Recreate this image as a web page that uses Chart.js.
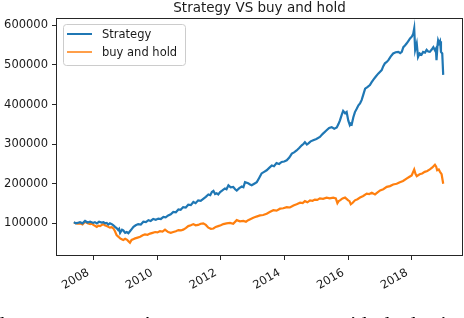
<!DOCTYPE html>
<html>
<head>
<meta charset="utf-8">
<script src="https://cdn.jsdelivr.net/npm/chart.js@4.4.0/dist/chart.umd.min.js"></script>
<style>
  html, body { margin: 0; padding: 0; background: #fff; overflow: hidden; }
  #wrap { position: relative; width: 464px; height: 318px; overflow: hidden; }
  #caption {
    position: absolute; left: 0; top: 313px;
    font: 22px "Liberation Serif", serif; line-height: 1;
    white-space: nowrap; color: #000;
  }
</style>
</head>
<body>
<div id="wrap">
  <canvas id="chart" width="464" height="318"></canvas>
  <div id="caption">hat a component's strategy, once seen with the horizon</div>
</div>
<script>
// ------------------------------------------------------------
//   values (dates as decimal years)
// ------------------------------------------------------------
const chartTitle = "Strategy VS buy and hold";
const seriesNames = ["Strategy", "buy and hold"];

const strategyDates = [
  2007.39, 2007.45, 2007.50, 2007.58, 2007.66, 2007.74, 2007.82, 2007.90,
  2008.00, 2008.05, 2008.11, 2008.18, 2008.26, 2008.32, 2008.37, 2008.42, 2008.47, 2008.52,
  2008.58, 2008.63, 2008.68, 2008.73, 2008.78, 2008.81, 2008.84, 2008.90, 2008.94,
  2009.00, 2009.05, 2009.10, 2009.15, 2009.21, 2009.26, 2009.33, 2009.41, 2009.49,
  2009.57, 2009.65, 2009.73, 2009.80, 2009.88, 2009.96,
  2010.04, 2010.12, 2010.20, 2010.27, 2010.35, 2010.43, 2010.51, 2010.59, 2010.67,
  2010.74, 2010.82, 2010.90, 2010.98,
  2011.06, 2011.14, 2011.21, 2011.29, 2011.37, 2011.45, 2011.53, 2011.61, 2011.67,
  2011.72, 2011.77, 2011.82, 2011.87, 2011.92, 2011.98,
  2012.05, 2012.13, 2012.18, 2012.24, 2012.31, 2012.39, 2012.45, 2012.50, 2012.58,
  2012.66, 2012.71, 2012.76, 2012.86, 2012.92, 2012.97,
  2013.05, 2013.13, 2013.20, 2013.28, 2013.36, 2013.44, 2013.52, 2013.60, 2013.67,
  2013.75, 2013.83, 2013.91, 2013.99,
  2014.07, 2014.15, 2014.23, 2014.30, 2014.38, 2014.46, 2014.54, 2014.60, 2014.64,
  2014.70, 2014.75, 2014.82, 2014.90,
  2015.00, 2015.11, 2015.20, 2015.32, 2015.40, 2015.48, 2015.56, 2015.64, 2015.70,
  2015.74, 2015.80, 2015.84, 2015.90, 2015.95,
  2016.00, 2016.05, 2016.08, 2016.11, 2016.16, 2016.21, 2016.27, 2016.32, 2016.37,
  2016.42, 2016.48, 2016.53, 2016.60, 2016.68, 2016.73, 2016.79, 2016.86, 2016.94,
  2017.00, 2017.05, 2017.10, 2017.15, 2017.20, 2017.26, 2017.33, 2017.41, 2017.49,
  2017.57, 2017.63, 2017.68, 2017.73, 2017.78, 2017.83, 2017.89, 2017.94,
  2018.00, 2018.04, 2018.07, 2018.10, 2018.15, 2018.19, 2018.24, 2018.30, 2018.35,
  2018.41, 2018.46, 2018.51, 2018.56, 2018.62, 2018.67, 2018.72, 2018.75, 2018.77,
  2018.80, 2018.82, 2018.85, 2018.88, 2018.91, 2018.95, 2018.98
];
const strategyValues = [
  103000, 100000, 101000, 103000, 100000, 106000, 102000, 104000,
  101000, 103000, 100000, 104000, 102000, 103000, 100000, 101000, 97000, 100000,
  98000, 95000, 91000, 88000, 83000, 86000, 76000, 84000, 82000,
  76000, 78000, 75000, 80000, 86000, 91000, 95000, 98000, 97000,
  104000, 103000, 108000, 106000, 111000, 109000,
  112000, 111000, 116000, 115000, 120000, 123000, 129000, 128000, 135000,
  134000, 141000, 140000, 147000,
  146000, 154000, 151000, 158000, 157000, 162000, 167000, 173000, 171000,
  179000, 182000, 174000, 176000, 173000, 179000,
  183000, 188000, 186000, 196000, 191000, 192000, 186000, 183000, 189000,
  193000, 191000, 204000, 201000, 198000, 196000,
  200000, 204000, 214000, 226000, 230000, 234000, 240000, 246000, 244000,
  252000, 250000, 255000, 256000,
  259000, 266000, 276000, 279000, 284000, 290000, 297000, 301000, 305000,
  299000, 302000, 307000, 310000,
  313000, 318000, 326000, 335000, 341000, 343000, 339000, 342000, 352000,
  360000, 375000, 384000, 378000, 381000,
  360000, 348000, 352000, 350000, 368000, 381000, 390000, 398000, 403000,
  411000, 427000, 440000, 444000, 449000, 456000, 463000, 470000, 478000,
  483000, 487000, 497000, 504000, 507000, 512000, 521000, 529000, 532000,
  533000, 530000, 533000, 545000, 549000, 554000, 561000, 567000,
  572000, 579000, 592000, 538000, 554000, 520000, 529000, 526000, 533000,
  531000, 538000, 534000, 533000, 539000, 545000, 537000, 541000, 512000,
  548000, 562000, 555000, 560000, 533000, 529000, 475000
];

const holdDates = [
  2007.39, 2007.45, 2007.50, 2007.58, 2007.66, 2007.74, 2007.82, 2007.90, 2007.95,
  2008.00, 2008.05, 2008.11, 2008.16, 2008.21, 2008.31, 2008.36, 2008.42, 2008.47,
  2008.52, 2008.58, 2008.63, 2008.68, 2008.73, 2008.79, 2008.84, 2008.89, 2008.94,
  2009.00, 2009.05, 2009.10, 2009.15, 2009.20, 2009.25, 2009.31, 2009.39, 2009.47,
  2009.55, 2009.62, 2009.70, 2009.78, 2009.86, 2009.94,
  2010.01, 2010.09, 2010.17, 2010.25, 2010.30, 2010.35, 2010.43, 2010.51, 2010.59,
  2010.67, 2010.75, 2010.82, 2010.90, 2010.98,
  2011.06, 2011.14, 2011.21, 2011.29, 2011.37, 2011.45, 2011.53, 2011.61, 2011.69,
  2011.77, 2011.84, 2011.92,
  2012.00, 2012.08, 2012.18, 2012.29, 2012.39, 2012.50, 2012.60, 2012.71, 2012.79,
  2012.86, 2012.94,
  2013.02, 2013.12, 2013.23, 2013.33, 2013.44, 2013.55, 2013.65, 2013.75, 2013.86, 2013.96,
  2014.07, 2014.17, 2014.28, 2014.38, 2014.49, 2014.57, 2014.64, 2014.72, 2014.80,
  2014.88, 2014.95,
  2015.03, 2015.11, 2015.21, 2015.32, 2015.42, 2015.53, 2015.61, 2015.66, 2015.70,
  2015.74, 2015.82, 2015.90,
  2016.00, 2016.04, 2016.08, 2016.14, 2016.21, 2016.29, 2016.37, 2016.47, 2016.58,
  2016.66, 2016.74, 2016.84, 2016.92,
  2017.00, 2017.10, 2017.21, 2017.31, 2017.41, 2017.52, 2017.62, 2017.72, 2017.83,
  2017.91, 2017.99,
  2018.07, 2018.11, 2018.15, 2018.24, 2018.32, 2018.40, 2018.48, 2018.56, 2018.64,
  2018.72, 2018.76, 2018.79, 2018.84, 2018.88, 2018.93, 2018.98
];
const holdValues = [
  102000, 100000, 99000, 100000, 97000, 104000, 100000, 98000, 99000,
  96000, 94000, 91000, 94000, 93000, 98000, 95000, 93000, 91000,
  89000, 90000, 87000, 80000, 70000, 66000, 62000, 60000, 58000,
  61000, 59000, 55000, 51000, 58000, 60000, 62000, 64000, 66000,
  70000, 72000, 71000, 74000, 76000, 78000,
  77000, 80000, 79000, 84000, 81000, 78000, 76000, 78000, 80000,
  83000, 82000, 84000, 88000, 93000,
  95000, 98000, 95000, 96000, 99000, 100000, 96000, 89000, 86000,
  87000, 91000, 93000,
  95000, 98000, 100000, 101000, 99000, 108000, 105000, 106000, 104000,
  108000, 111000,
  114000, 117000, 120000, 121000, 124000, 129000, 133000, 132000, 137000, 138000,
  141000, 140000, 145000, 148000, 152000, 151000, 156000, 153000, 158000,
  157000, 160000,
  159000, 163000, 162000, 165000, 163000, 165000, 163000, 151000, 156000,
  158000, 163000, 165000,
  158000, 156000, 148000, 152000, 158000, 161000, 165000, 169000, 175000,
  174000, 177000, 173000, 178000,
  183000, 186000, 192000, 194000, 198000, 200000, 204000, 207000, 213000,
  217000, 221000,
  236000, 225000, 219000, 224000, 226000, 230000, 232000, 236000, 241000,
  248000, 243000, 234000, 236000, 230000, 224000, 200000
];

const xTicks = [2008, 2010, 2012, 2014, 2016, 2018];
const yTicks = [100000, 200000, 300000, 400000, 500000, 600000];
const xRange = [2006.86, 2019.57];
const yRange = [20000, 616000];

const lineColors = ['#1f77b4', '#ff7f0e'];
const textColor = '#1a1a1a';
const spineColor = '#262626';
const tickFont = { family: 'DejaVu Sans', size: 11.5 };

function toPoints(dates, values) {
  return dates.map((d, i) => ({ x: d, y: values[i] }));
}

// ------------------------------------------------------------
//   title, four spines, slanted date labels, framed legend
// ------------------------------------------------------------
const decorPlugin = {
  id: 'decor',
  afterDraw(chart) {
    const { ctx, chartArea: a } = chart;
    const xScale = chart.scales.x;
    ctx.save();

    // spines
    ctx.strokeStyle = spineColor;
    ctx.lineWidth = 1;
    ctx.strokeRect(a.left - 0.5, a.top - 0.5, a.right - a.left + 1, a.bottom - a.top + 1);

    // title
    ctx.fillStyle = textColor;
    ctx.font = '13.5px "DejaVu Sans"';
    ctx.textAlign = 'center';
    ctx.textBaseline = 'alphabetic';
    ctx.fillText(chartTitle, (a.left + a.right) / 2, 12);

    // x labels, turned 30 degrees and right-aligned on their tick
    ctx.font = '11.5px "DejaVu Sans"';
    ctx.textAlign = 'right';
    xTicks.forEach(v => {
      const px = xScale.getPixelForValue(v);
      ctx.save();
      ctx.translate(px - 3.5, a.bottom + 19.5);
      ctx.rotate(-Math.PI / 6);
      ctx.fillText(String(v), 0, 0);
      ctx.restore();
    });

    // legend
    const lx = a.left + 6, ly = a.top + 5;
    ctx.beginPath();
    ctx.roundRect(lx + 0.5, ly + 0.5, 122, 41, 3);
    ctx.fillStyle = 'rgba(255,255,255,0.8)';
    ctx.fill();
    ctx.strokeStyle = '#cccccc';
    ctx.stroke();

    ctx.textAlign = 'left';
    ctx.textBaseline = 'middle';
    chart.data.datasets.forEach((ds, i) => {
      const y = ly + 10 + i * 18;
      ctx.strokeStyle = ds.borderColor;
      ctx.lineWidth = i === 0 ? 2 : 1.5;
      ctx.beginPath();
      ctx.moveTo(lx + 4, y);
      ctx.lineTo(lx + 29, y);
      ctx.stroke();
      ctx.fillStyle = textColor;
      ctx.fillText(ds.label, lx + 39, y + 1);
    });

    ctx.restore();
  }
};

new Chart(document.getElementById('chart'), {
  type: 'line',
  data: {
    datasets: [
      {
        label: seriesNames[0],
        data: toPoints(strategyDates, strategyValues),
        borderColor: lineColors[0],
        borderWidth: 2.2,
        pointRadius: 0,
        tension: 0,
        fill: false
      },
      {
        label: seriesNames[1],
        data: toPoints(holdDates, holdValues),
        borderColor: lineColors[1],
        borderWidth: 2.2,
        pointRadius: 0,
        tension: 0,
        fill: false
      }
    ]
  },
  options: {
    responsive: false,
    animation: false,
    devicePixelRatio: 1,
    layout: { padding: { top: 19, right: 2, left: 0, bottom: 0 } },
    plugins: {
      legend: { display: false },
      title: { display: false },
      tooltip: { enabled: false }
    },
    scales: {
      x: {
        type: 'linear',
        min: xRange[0],
        max: xRange[1],
        afterBuildTicks: s => { s.ticks = xTicks.map(v => ({ value: v })); },
        afterFit: s => { s.height = 63; },
        border: { display: false },
        grid: { drawOnChartArea: false, drawTicks: true, tickLength: 5, color: spineColor },
        ticks: { display: false }
      },
      y: {
        type: 'linear',
        min: yRange[0],
        max: yRange[1],
        afterBuildTicks: s => { s.ticks = yTicks.map(v => ({ value: v })); },
        afterFit: s => { s.width = 57; },
        border: { display: false },
        grid: { drawOnChartArea: false, drawTicks: true, tickLength: 5, color: spineColor },
        ticks: {
          padding: 4,
          color: textColor,
          font: tickFont,
          callback: v => String(v)
        }
      }
    }
  },
  plugins: [decorPlugin]
});
</script>
</body>
</html>
